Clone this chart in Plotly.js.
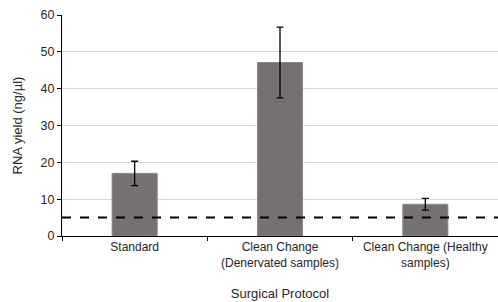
<!DOCTYPE html>
<html>
<head>
<meta charset="utf-8">
<script src="https://cdn.plot.ly/plotly-3.0.1.min.js"></script>
<style>html,body{margin:0;padding:0;background:#fff;}#chart{width:498px;height:302px;}</style>
</head>
<body>
<div id="chart"></div>
<script>
var categories = ["Standard", "Clean Change<br>(Denervated samples)", "Clean Change (Healthy<br>samples)"];
var yields = [17.0, 47.1, 8.6];
var errors = [3.3, 9.6, 1.6];
var threshold = 5;
var yTicks = [0, 10, 20, 30, 40, 50, 60];

var trace = {
  type: "bar",
  x: categories,
  y: yields,
  marker: {color: "#767171", line: {color: "#8a8686", width: 1}},
  error_y: {type: "data", array: errors, visible: true, color: "#000", thickness: 1.3, width: 3.5},
  hoverinfo: "none"
};

var layout = {
  width: 498, height: 302,
  margin: {l: 62, r: 0, t: 15, b: 66},
  paper_bgcolor: "#fff", plot_bgcolor: "#fff",
  font: {family: "Liberation Sans, Arial, sans-serif", size: 12, color: "#262626"},
  bargap: 0.69,
  showlegend: false,
  xaxis: {
    type: "category",
    tickson: "boundaries",
    ticks: "outside", ticklen: 4, tickcolor: "#000",
    showline: true, linecolor: "#000", linewidth: 1,
    showgrid: false,
    tickfont: {size: 12, color: "#262626"},
    title: {text: "Surgical Protocol", font: {size: 13, color: "#262626"}, standoff: 19}
  },
  yaxis: {
    range: [0, 60], tickvals: yTicks,
    ticks: "outside", ticklen: 4, tickcolor: "#000",
    showline: true, linecolor: "#000", linewidth: 1,
    gridcolor: "#d9d9d9", gridwidth: 1, zeroline: false,
    tickfont: {size: 12.5, color: "#262626"},
    title: {text: "RNA yield (ng/µl)", font: {size: 13, color: "#262626"}, standoff: 15}
  },
  shapes: [{
    type: "line", xref: "paper", x0: 0, x1: 1, yref: "y", y0: threshold, y1: threshold,
    line: {color: "#000", width: 2, dash: "dash"}
  }]
};

Plotly.newPlot("chart", [trace], layout, {staticPlot: true, displayModeBar: false});
</script>
</body>
</html>
